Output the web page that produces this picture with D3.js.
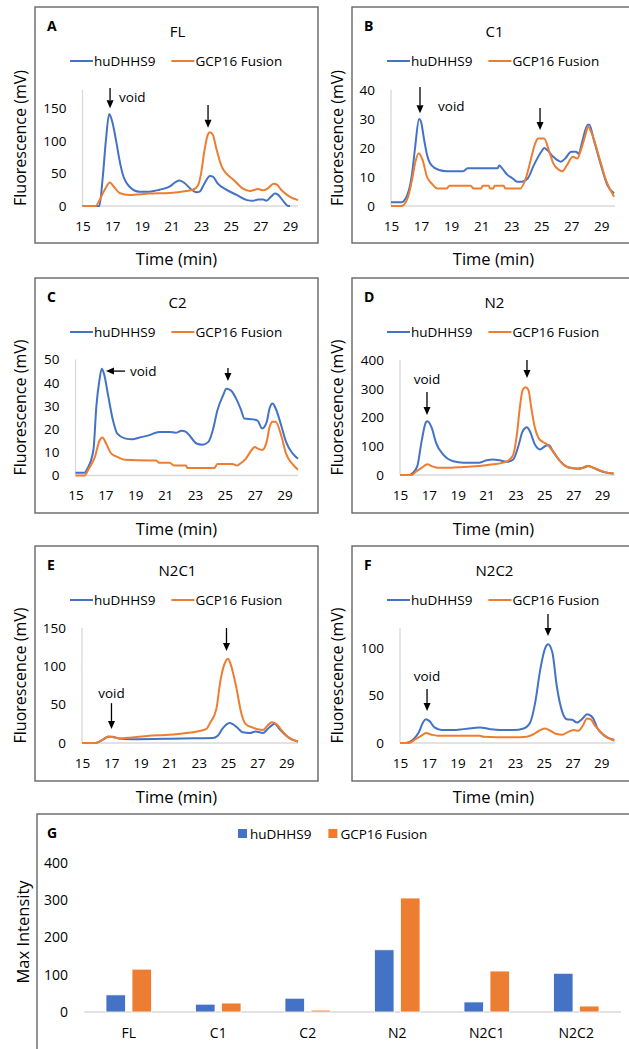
<!DOCTYPE html>
<html><head><meta charset="utf-8">
<script src="https://cdn.jsdelivr.net/npm/d3@7"></script>
<style>body{margin:0;background:#fff;} svg{display:block;font-family:"Open Sans",sans-serif;}</style>
</head><body><svg id="c" width="629" height="1049"></svg>
<script>
// ---------------- DATA ----------------
const seriesNames = ["huDHHS9", "GCP16 Fusion"];
const xTicks = [15, 17, 19, 21, 23, 25, 27, 29];

const FL_huDHHS9 = [[15,0],[16.13,0],[16.35,40],[16.58,101],[16.8,141],[17.0,130],[17.26,101],[17.5,70],[17.7,50],[18.16,30],[18.84,22],[19.5,22],[20.2,25],[20.9,30],[21.3,37],[21.55,39],[21.9,35],[22.3,26],[22.7,21],[22.9,22],[23.24,35],[23.6,46],[23.8,45],[24.1,35],[24.7,25],[25.4,17],[26.1,9],[26.5,8],[26.85,10],[27.2,10],[27.4,8],[27.75,15],[27.98,19],[28.2,17],[28.5,9],[28.9,0],[29.0,0]];
const FL_GCP16 = [[15,0],[15.9,0],[16.1,7],[16.5,25],[16.85,36],[17.1,30],[17.5,20],[18.16,17],[19.5,19],[20.9,20],[22.0,23],[22.45,25],[22.8,32],[23.0,50],[23.2,81],[23.45,109],[23.6,113],[23.8,109],[24.0,91],[24.4,60],[24.7,50],[25.2,40],[25.8,27],[26.3,23],[26.85,26],[27.2,24],[27.5,27],[27.9,34],[28.1,33],[28.4,25],[29.0,14],[29.55,9]];

const C1_huDHHS9 = [[15,1.3],[15.7,1.3],[16.1,4],[16.4,11],[16.6,20],[16.87,30],[17.0,29],[17.2,23],[17.4,17.6],[17.7,14],[18.2,12.4],[18.7,12],[19.8,12],[20.1,13],[22.1,13],[22.2,14],[22.4,13],[22.7,11],[23.1,9.5],[23.4,8.4],[23.7,8.4],[24.1,9.5],[24.5,14],[25.0,18.7],[25.2,20],[25.4,19.3],[25.8,17],[26.3,15.3],[26.6,16.4],[27.0,18.7],[27.3,18.7],[27.5,18],[27.7,21.6],[28.1,28],[28.2,28],[28.5,22.8],[29.0,13.6],[29.4,7.2],[29.85,4.4]];
const C1_GCP16 = [[15,0],[15.7,0],[16.1,2.6],[16.4,9],[16.6,14.7],[16.85,18.2],[17.1,15.9],[17.4,10],[17.7,7.8],[18.1,6],[18.7,6],[18.9,7],[20.3,7],[20.5,6],[21.0,6],[21.1,7],[21.5,7],[21.6,6],[21.8,6],[21.9,7],[22.5,7],[22.6,6],[23.6,6],[24.0,10],[24.3,15.9],[24.6,21.6],[24.8,23.3],[25.2,23.3],[25.5,19.3],[25.8,14.7],[26.2,12.4],[26.4,12],[26.7,14],[27.1,17],[27.4,16.4],[27.6,18.7],[28.0,25.6],[28.1,27.4],[28.4,24.5],[28.9,16],[29.3,9],[29.85,3.2]];

const C2_huDHHS9 = [[15,1.2],[15.6,1.2],[15.8,3],[16.2,11],[16.4,30],[16.6,41],[16.76,46],[16.9,44],[17.2,34],[17.5,24],[17.8,18],[18.3,16],[18.8,15.6],[19.3,16.4],[19.95,17.4],[20.6,18.8],[21.3,18.8],[21.7,18.4],[22.1,19.3],[22.4,18.8],[22.7,16.7],[23.1,13.8],[23.5,13.3],[23.9,14.5],[24.2,19.6],[24.5,28],[24.9,34.8],[25.1,37.4],[25.4,36.7],[25.8,32.6],[26.1,28],[26.3,24.6],[26.9,24.2],[27.2,23.6],[27.5,20.3],[27.8,23],[28.0,29],[28.2,31],[28.4,29],[28.8,21],[29.1,14.5],[29.55,9.4],[29.9,7.2]];
const C2_GCP16 = [[15,0],[15.6,0],[15.9,3],[16.3,8],[16.6,15],[16.8,16.4],[17.05,13.8],[17.4,9.4],[17.8,8],[18.3,6.8],[19.95,6.5],[20.4,6.5],[20.6,5.5],[21.3,5.5],[21.6,4.3],[22.4,4.3],[22.5,3.2],[24.3,3.2],[24.5,5],[25.5,5],[25.8,4.3],[26.0,5],[26.4,7.2],[26.8,11],[27.0,12.3],[27.2,11.6],[27.5,11],[27.8,14.5],[28.0,21],[28.2,23.2],[28.4,23.2],[28.8,16.7],[29.1,9.4],[29.55,4.8],[29.9,2.5]];

const N2_huDHHS9 = [[15,0],[15.65,0],[15.9,8],[16.2,31],[16.5,118],[16.8,184],[16.9,187],[17.2,164],[17.5,112],[18.0,71],[18.7,48],[19.4,43],[20.5,43],[21.0,51],[21.45,54],[21.9,51],[22.4,46],[22.85,54],[23.2,100],[23.5,152],[23.8,166],[24.0,152],[24.35,106],[24.7,89],[25.05,100],[25.3,104],[25.6,83],[26.1,48],[26.6,28],[27.3,22],[27.7,25],[28.07,31],[28.4,25],[28.9,14],[29.35,8],[29.8,5]];
const N2_GCP16 = [[15,0],[15.8,0],[16.1,11.5],[16.5,25],[16.9,37],[17.2,31],[17.6,25],[18.2,25],[19.4,28],[20.5,31],[21.45,37],[22.15,43],[22.6,54],[22.85,71],[23.1,141],[23.3,233],[23.5,296],[23.7,305],[23.9,296],[24.1,233],[24.35,164],[24.6,129],[24.9,115],[25.2,106],[25.4,95],[25.9,60],[26.3,37],[26.8,25],[27.5,22],[27.96,31],[28.2,29],[28.65,20],[29.2,10],[29.8,5]];

const N2C1_huDHHS9 = [[15,0],[15.9,0],[16.4,4],[16.8,8],[17.1,8],[17.5,6],[18.4,5],[21.9,6],[23.95,6.5],[24.3,9.5],[24.6,18],[25.1,26],[25.3,25],[25.7,19],[26.0,14],[26.5,13],[26.9,15],[27.4,13],[27.7,18],[28.0,23],[28.2,25],[28.5,19],[29.0,9.5],[29.45,4],[29.8,2]];
const N2C1_GCP16 = [[15,0],[15.9,0],[16.4,4],[16.8,8.6],[17.2,7.3],[17.6,6],[18.4,7.3],[19.6,9.5],[20.7,10.4],[21.9,12.5],[22.8,14.7],[23.5,18],[23.8,27],[24.2,44],[24.5,83],[24.85,107],[25.0,110],[25.2,102],[25.6,70],[25.9,40],[26.2,25],[26.7,20],[27.4,17],[27.7,22.5],[28.0,27],[28.3,25],[28.7,16],[29.1,8],[29.8,2]];

const N2C2_huDHHS9 = [[15,0],[15.4,0],[15.9,3.5],[16.3,11],[16.6,21.6],[16.8,25],[17.05,23],[17.4,16.4],[17.9,13.6],[18.7,13.6],[19.4,14.6],[20.1,15.7],[20.55,16.4],[21.25,14.6],[21.95,13.6],[22.9,13.6],[23.6,15.3],[24.05,21.6],[24.4,42.5],[24.75,77],[25.1,100],[25.3,104],[25.6,95],[25.9,60],[26.3,32],[26.6,25],[26.97,24.4],[27.3,21.6],[27.7,25.8],[28.0,30.3],[28.4,26.8],[28.7,16.4],[29.2,7.7],[29.9,3.5]];
const N2C2_GCP16 = [[15,0],[15.6,0],[16.1,4.2],[16.6,8.7],[16.8,10.5],[17.2,8.7],[17.6,7.7],[20.55,7.7],[20.8,6.6],[22.9,6],[23.8,6.6],[24.3,9.4],[24.75,13.6],[25.1,15.3],[25.45,12.9],[25.9,9.4],[26.3,8.7],[26.6,11],[27.1,13.6],[27.4,12.9],[27.7,18],[28.0,25.8],[28.25,25],[28.6,17.4],[29.1,9.4],[29.9,2.4]];

const yTicks_FL = [0, 50, 100, 150];
const yTicks_C1 = [0, 10, 20, 30, 40];
const yTicks_C2 = [0, 10, 20, 30, 40, 50];
const yTicks_N2 = [0, 100, 200, 300, 400];
const yTicks_N2C1 = [0, 50, 100, 150];
const yTicks_N2C2 = [0, 50, 100];

// annotations (data coordinates): arrows [from, to], "void" label
const arrows_FL = [[[16.86,181],[16.86,150]], [[23.47,155],[23.47,120]]];
const arrows_C1 = [[[16.93,41],[16.93,32]], [[24.92,33.8],[24.92,26.2]]];
const arrows_C2 = [[[18.32,45],[17.04,45]], [[25.21,46.3],[25.21,40.7]]];
const arrows_N2 = [[[16.87,289],[16.87,209]], [[23.8,400],[23.8,337]]];
const arrows_N2C1 = [[[17.02,52],[17.02,18.3]], [[24.9,150],[24.9,120]]];
const arrows_N2C2 = [[[16.88,56.8],[16.88,33.7]], [[25.29,135.8],[25.29,112.6]]];
const void_FL = [17.47, 167, "start"];
const void_C1 = [18.13, 34.5, "start"];
const void_C2 = [18.65, 45, "start"];
const void_N2 = [16.87, 334, "middle"];
const void_N2C1 = [17.02, 65, "middle"];
const void_N2C2 = [16.88, 70.5, "middle"];

// bar chart G
const categories = ["FL", "C1", "C2", "N2", "N2C1", "N2C2"];
const maxHuDHHS9 = [46, 21, 37, 167, 27, 104];
const maxGCP16 = [115, 24, 5, 306, 110, 16];
const yTicks_G = [0, 100, 200, 300, 400];

// ---------------- LAYOUT ----------------
const BLUE = "#4472C4", ORANGE = "#ED7D31";
const svg = d3.select("#c");

const panels = [
  {letter:"A", title:"FL", hu:FL_huDHHS9, gcp:FL_GCP16, yTicks:yTicks_FL, yMax:178, xEnd:29.54, box:[35,7,283,236], plot:[82.5,298,90,206], arrows:arrows_FL, vd:void_FL},
  {letter:"B", title:"C1", hu:C1_huDHHS9, gcp:C1_GCP16, yTicks:yTicks_C1, yMax:40, xEnd:29.91, box:[352,7,279,236], plot:[391,615,90,206], arrows:arrows_C1, vd:void_C1},
  {letter:"C", title:"C2", hu:C2_huDHHS9, gcp:C2_GCP16, yTicks:yTicks_C2, yMax:50, xEnd:29.9, box:[35,278,283,235], plot:[75.5,298,359.5,475.5], arrows:arrows_C2, vd:void_C2},
  {letter:"D", title:"N2", hu:N2_huDHHS9, gcp:N2_GCP16, yTicks:yTicks_N2, yMax:400, xEnd:29.9, box:[352,278,279,235], plot:[400,615,360,475], arrows:arrows_N2, vd:void_N2},
  {letter:"E", title:"N2C1", hu:N2C1_huDHHS9, gcp:N2C1_GCP16, yTicks:yTicks_N2C1, yMax:150, xEnd:29.8, box:[35,546,283,235], plot:[82,298,628,743], arrows:arrows_N2C1, vd:void_N2C1},
  {letter:"F", title:"N2C2", hu:N2C2_huDHHS9, gcp:N2C2_GCP16, yTicks:yTicks_N2C2, yMax:121, xEnd:29.95, box:[352,546,279,235], plot:[400,615,628,743], arrows:arrows_N2C2, vd:void_N2C2}
];

function arrowHead(g, x1, y1, x2, y2) {
  const ang = Math.atan2(y2 - y1, x2 - x1);
  const L = 8, W = 3.5;
  const bx = x2 - L * Math.cos(ang), by = y2 - L * Math.sin(ang);
  const px = -Math.sin(ang) * W, py = Math.cos(ang) * W;
  g.append("line").attr("x1", x1).attr("y1", y1).attr("x2", bx).attr("y2", by)
    .attr("stroke", "#000").attr("stroke-width", 1.3);
  g.append("path").attr("d", `M${x2},${y2}L${bx+px},${by+py}L${bx-px},${by-py}Z`).attr("fill", "#000");
}

panels.forEach(p => {
  const [bx, by, bw, bh] = p.box;
  const [px0, px1, pyT, pyB] = p.plot;
  const g = svg.append("g");
  g.append("rect").attr("x", bx).attr("y", by).attr("width", bw).attr("height", bh)
    .attr("fill", "none").attr("stroke", "#666").attr("stroke-width", 1.4);
  g.append("text").attr("x", bx + 12).attr("y", by + 18).attr("dominant-baseline", "central")
    .attr("font-size", 14).attr("font-weight", "bold").text(p.letter);
  const cx = bx + 141.5;
  g.append("text").attr("x", cx + 1).attr("y", by + 24).attr("dominant-baseline", "central")
    .attr("text-anchor", "middle").attr("font-size", 15).text(p.title);

  // legend
  const ly = by + 54;
  let lx = bx + 35;
  const leg = g.append("g");
  [BLUE, ORANGE].forEach((c, i) => {
    leg.append("line").attr("x1", lx).attr("x2", lx + 23).attr("y1", ly).attr("y2", ly)
      .attr("stroke", c).attr("stroke-width", 2);
    const t = leg.append("text").attr("x", lx + 24).attr("y", ly).attr("dominant-baseline", "central")
      .attr("font-size", 13.5).text(seriesNames[i]);
    lx = lx + 24 + t.node().getComputedTextLength() + 16;
  });

  const x = d3.scaleLinear().domain([15, p.xEnd]).range([px0, px1]);
  const y = d3.scaleLinear().domain([0, p.yMax]).range([pyB, pyT]);

  // axes lines
  g.append("line").attr("x1", px0).attr("x2", px0).attr("y1", pyT).attr("y2", pyB)
    .attr("stroke", "#d9d9d9").attr("stroke-width", 1.3);
  g.append("line").attr("x1", px0).attr("x2", px1).attr("y1", pyB).attr("y2", pyB)
    .attr("stroke", "#d9d9d9").attr("stroke-width", 1.3);

  const yAxis = d3.axisLeft(y).tickValues(p.yTicks).tickSize(0).tickPadding(16);
  const ya = g.append("g").attr("transform", `translate(${px0},0)`).call(yAxis);
  ya.select(".domain").remove();
  ya.selectAll("text").attr("font-size", 13.5).attr("font-family", "Open Sans").attr("fill", "#000");

  const xAxis = d3.axisBottom(x).tickValues(xTicks).tickSize(0).tickPadding(15);
  const xa = g.append("g").attr("transform", `translate(0,${pyB})`).call(xAxis);
  xa.select(".domain").remove();
  xa.selectAll("text").attr("font-size", 13.5).attr("font-family", "Open Sans").attr("fill", "#000");

  g.append("text").attr("transform", `translate(${bx - 15},${(pyT + pyB) / 2 - 10}) rotate(-90)`)
    .attr("text-anchor", "middle").attr("dominant-baseline", "central").attr("font-size", 16)
    .text("Fluorescence (mV)");
  g.append("text").attr("x", cx).attr("y", by + bh + 15).attr("text-anchor", "middle")
    .attr("dominant-baseline", "central").attr("font-size", 16.5).text("Time (min)");

  const line = d3.line().x(d => x(d[0])).y(d => y(d[1])).curve(d3.curveMonotoneX);
  g.append("path").datum(p.hu).attr("d", line).attr("fill", "none").attr("stroke", BLUE).attr("stroke-width", 2);
  g.append("path").datum(p.gcp).attr("d", line).attr("fill", "none").attr("stroke", ORANGE).attr("stroke-width", 2);

  p.arrows.forEach(a => arrowHead(g, x(a[0][0]), y(a[0][1]), x(a[1][0]), y(a[1][1])));
  g.append("text").attr("x", x(p.vd[0])).attr("y", y(p.vd[1])).attr("text-anchor", p.vd[2])
    .attr("dominant-baseline", "central").attr("font-size", 13.5).text("void");
});

// ---------------- PANEL G ----------------
(function () {
  const g = svg.append("g");
  g.append("rect").attr("x", 37).attr("y", 814).attr("width", 600).attr("height", 260)
    .attr("fill", "none").attr("stroke", "#666").attr("stroke-width", 1.4);
  g.append("text").attr("x", 47).attr("y", 832).attr("dominant-baseline", "central")
    .attr("font-size", 14).attr("font-weight", "bold").text("G");

  let lx = 238;
  [BLUE, ORANGE].forEach((c, i) => {
    g.append("rect").attr("x", lx).attr("y", 829).attr("width", 9).attr("height", 9).attr("fill", c);
    const t = g.append("text").attr("x", lx + 12).attr("y", 833.5).attr("dominant-baseline", "central")
      .attr("font-size", 13.5).text(seriesNames[i]);
    lx = lx + 12 + t.node().getComputedTextLength() + 17;
  });

  const x0 = d3.scaleBand().domain(categories).range([84, 621]).padding(0);
  const x1 = d3.scaleBand().domain(seriesNames).range([-22.75, 22.75]).paddingInner(0.25);
  const y = d3.scaleLinear().domain([0, 400]).range([1012, 863]);

  g.append("line").attr("x1", 84).attr("x2", 621).attr("y1", y(0)).attr("y2", y(0))
    .attr("stroke", "#d9d9d9").attr("stroke-width", 1.3);

  const ya = g.append("g").attr("transform", "translate(84,0)")
    .call(d3.axisLeft(y).tickValues(yTicks_G).tickSize(0).tickPadding(16));
  ya.select(".domain").remove();
  ya.selectAll("text").attr("font-size", 14).attr("font-family", "Open Sans").attr("fill", "#000");

  const xa = g.append("g").attr("transform", `translate(0,${y(0)})`)
    .call(d3.axisBottom(x0).tickSize(0).tickPadding(16));
  xa.select(".domain").remove();
  xa.selectAll("text").attr("font-size", 14).attr("font-family", "Open Sans").attr("fill", "#000");

  g.append("text").attr("transform", "translate(22,932) rotate(-90)").attr("text-anchor", "middle")
    .attr("dominant-baseline", "central").attr("font-size", 16.5).text("Max Intensity");

  const rows = categories.map((c, i) => ({c, vals: [maxHuDHHS9[i], maxGCP16[i]]}));
  const grp = g.selectAll(".grp").data(rows).join("g")
    .attr("transform", d => `translate(${x0(d.c) + x0.bandwidth() / 2},0)`);
  grp.selectAll("rect").data(d => d.vals.map((v, j) => ({s: seriesNames[j], v, j}))).join("rect")
    .attr("x", d => x1(d.s)).attr("width", x1.bandwidth())
    .attr("y", d => y(d.v)).attr("height", d => y(0) - y(d.v))
    .attr("fill", d => d.j === 0 ? BLUE : ORANGE)
    .attr("stroke", "#fff").attr("stroke-width", 0.8);
})();
</script></body></html>
